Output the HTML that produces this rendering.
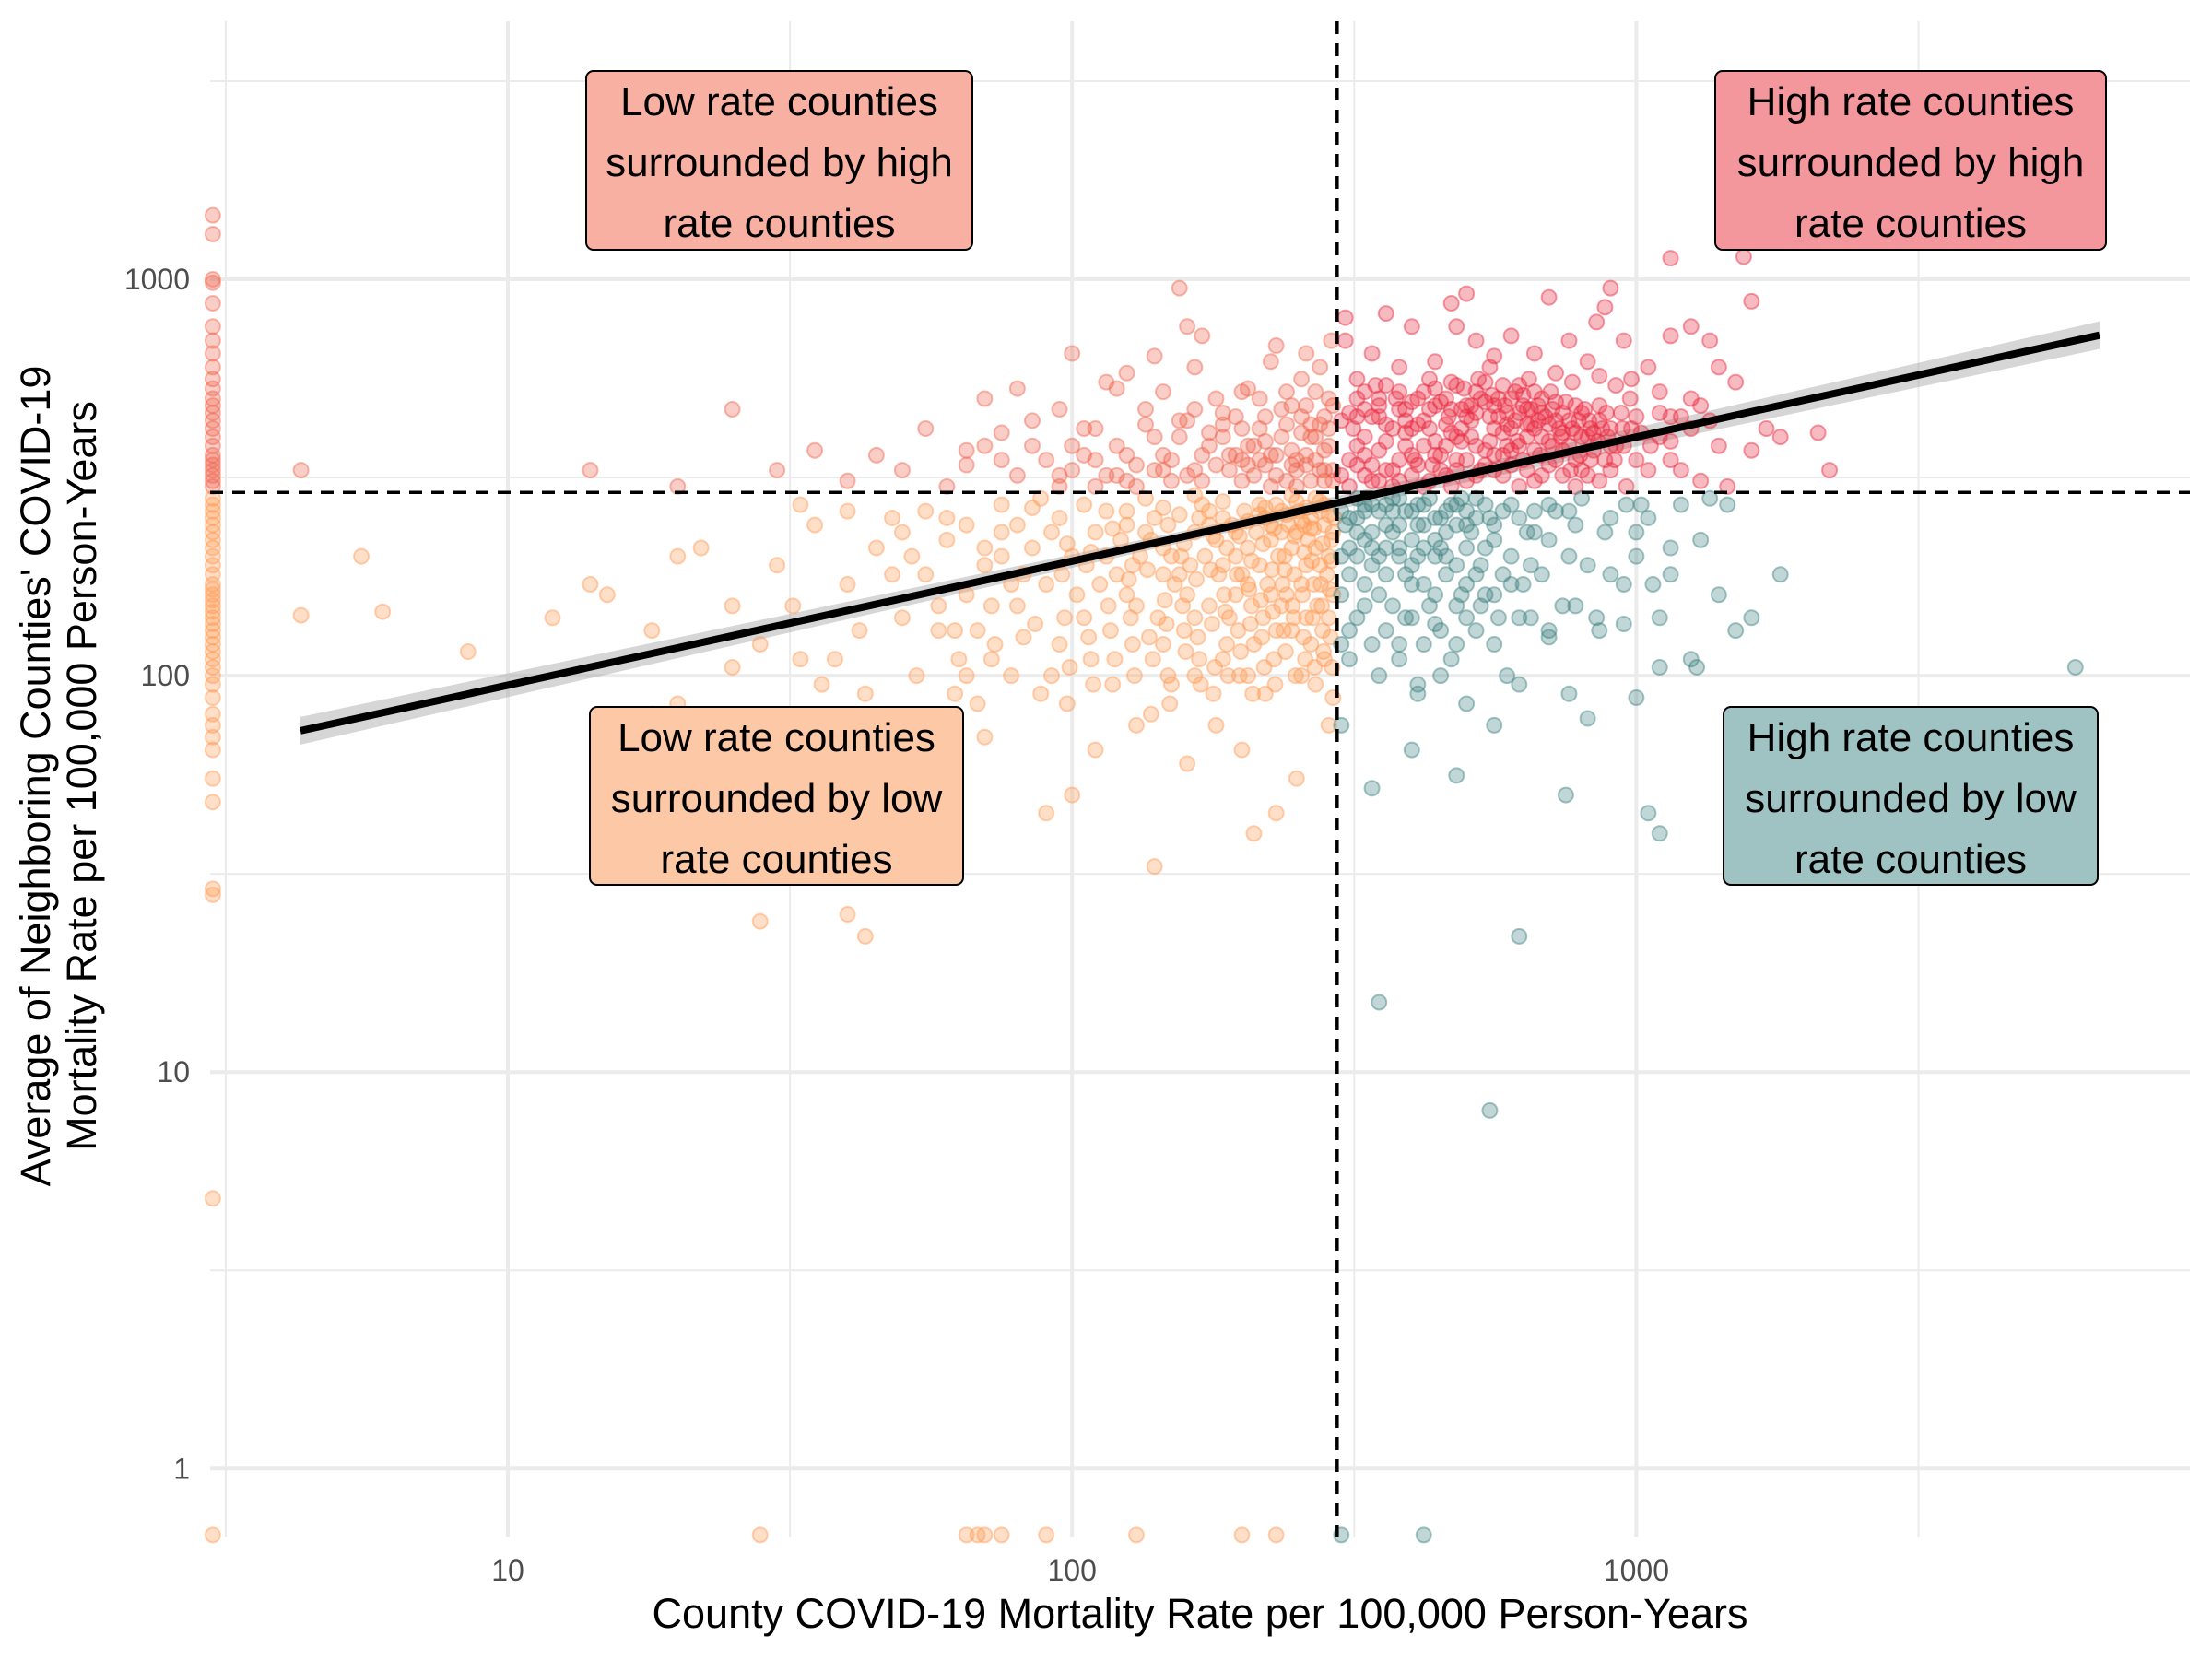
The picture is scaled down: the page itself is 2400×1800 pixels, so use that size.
<!DOCTYPE html>
<html><head><meta charset="utf-8"><style>
html,body{margin:0;padding:0;background:#fff;}
svg{display:block;font-family:"Liberation Sans",sans-serif;}
</style></head><body>
<svg id="chart" width="2400" height="1800" viewBox="0 0 2400 1800" xmlns="http://www.w3.org/2000/svg">
<g id="grid"></g>
<g id="band"></g>
<g id="pts"></g>
<g id="ref"></g>
<g id="axes"></g>
<g id="labels"></g>
</svg>
<script>
const xTicks=[10,100,1000];
const yTicks=[1,10,100,1000];
const xThreshold=295;
const yThreshold=290;
const regIntercept=1.663;
const regSlope=0.313;
const regXRange=[4.29,6620];
const llPts="150:200,180:220,200:180,220:250,250:230,270:210,120:180,130:150,160:160,190:140,210:120,240:160,260:190,280:240,100:200,110:230,90:170,80:150,70:190,60:220,140:250,170:270,230:270,260:140,280:110,290:160,285:200,275:260,255:100,230:130,205:210,185:190,165:230,145:210,125:260,105:140,95:120,85:210,75:230,65:160,55:180,50:140,45:210,40:170,35:240,30:190,25:150,20:200,15:160,12:140,8.5:115,6:145,4.3:142,5.5:200,14:170,18:130,22:210,28:120,33:270,38:110,43:90,48:250,53:100,58:130,63:110,68:85,73:120,78:100,88:90,98:85,108:110,118:95,128:120,138:80,148:100,158:130,168:110,178:90,188:120,198:100,208:150,218:140,228:110,238:200,248:180,258:240,268:170,278:130,288:220,292:250,283:180,272:150,262:220,252:260,242:240,232:200,222:170,212:230,202:260,192:240,182:180,172:200,162:190,152:170,142:140,132:200,122:220,112:170,102:160,92:230,82:180,72:150,62:130,52:200,42:130,32:150,45:40,43:22,40:25,28:24,24:50,20:85,90:45,100:50,140:33,130:75,160:60,180:75,210:40,200:65,220:90,250:55,230:45,60:60,70:70,110:65,150:95,270:95,285:75,290:88,33:110,36:95,25:105,18:80,65:100,155:180,175:150,195:200,215:190,235:230,265:250,245:210,225:220,205:170,185:250,165:140,145:180,135:230,115:200,125:160,175:240,195:160,215:270,235:150,255:170,275:190,285:140,265:120,245:130,225:160,205:100,185:110,165:100,145:120,280:270,270:280,250:275,260:265,290:230,240:255,220:265";
const llCore="95:250,105:270,115:260,125:240,135:280,145:265,155:255,165:285,175:260,185:275,195:230,205:245,215:255,225:240,235:260,245:285,255:245,265:235,275:275,285:255,98:215,108:205,118:235,128:190,138:220,148:240,158:215,168:250,178:225,188:210,198:225,208:195,218:215,228:235,238:185,248:225,258:205,268:235,278:215,288:195,96:180,106:190,116:150,126:175,136:185,146:155,156:200,166:175,176:185,186:160,196:180,206:165,216:155,226:185,236:170,246:150,256:160,266:195,276:170,286:165,97:140,107:125,117:130,127:140,137:125,147:135,157:150,167:125,177:135,187:145,197:130,207:135,217:125,227:145,237:130,247:140,257:125,267:140,277:150,287:125,99:105,109:95,119:110,129:100,139:110,149:85,159:115,169:95,179:105,189:100,199:115,209:90,219:105,229:95,239:115,249:100,259:110,269:105,279:115,289:105,75:200,65:240,55:260,85:265,75:270,60:250,50:230,40:260,70:210,80:240,88:280,78:170,68:130,58:150,48:180,82:125,72:110,62:90,92:100,86:135";
const ulPts="250:350,270:400,280:450,230:320,210:380,190:330,170:360,150:310,130:340,110:300,100:330,260:480,240:520,220:450,200:420,180:500,160:440,140:400,120:380,90:350,80:320,70:380,60:300,50:330,40:310,30:330,20:300,14:330,4.3:330,25:470,35:370,45:360,55:420,65:340,75:410,85:440,95:470,105:420,115:550,125:580,135:470,145:520,155:440,165:600,175:410,185:460,195:360,205:530,215:500,225:620,235:400,245:370,255:560,265:430,275:600,285:380,290:330,288:700,260:650,230:680,200:520,170:720,160:760,155:950,140:640,120:530,100:650,80:530,70:500,110:420,200:310,250:300,280:310,270:520,240:430,215:350,185:400,165:330,145:360,125:310,95:300,260:360,220:390,275:330,285:420,265:310,245:340,225:300,205:340,290:480,280:370,255:410";
const ulCore="100:380,110:350,120:320,130:300,140:330,150:350,160:320,170:310,180:340,190:360,200:350,210:320,220:340,230:360,240:310,250:330,260:340,270:350,280:330,290:310,135:430,155:400,175:380,195:450,215:420,235:470,255:450,275:430,285:500,265:400,245:480,225:360,205:380,185:430,165:470,145:330,125:360,105:360,115:320,95:320,85:380,75:350,65:370";
const urPts="310:350,330:400,350:450,370:330,390:380,410:500,430:420,450:360,470:550,490:470,510:400,530:330,550:600,570:450,590:380,610:520,630:350,650:430,680:500,710:380,740:460,770:550,800:400,830:350,860:480,900:420,950:380,1000:450,1100:400,1200:330,1300:480,1400:380,1600:370,1800:400,2100:410,2200:330,1700:420,1500:550,1350:700,1250:760,1150:720,1050:600,950:700,880:850,820:620,760:700,720:580,660:650,600:720,560:640,520:700,480:760,440:620,400:760,380:600,360:820,340:650,320:560,305:700,305:800,330:320,350:310,380:310,420:300,460:320,500:310,540:340,580:320,620:300,660:310,700:340,740:320,780:300,820:320,860:310,900:330,960:300,1050:330,1150:350,1300:310,1450:300,1150:1130,1550:1140,1600:880,1400:600,1250:500,1150:450,1100:520,980:560,920:540,860:570,780:480,720:440,680:400,640:470,600:420,560:360,520:460,480:400,440:480,400:420,360:390,330:470,315:420,345:540,375:500,405:350,435:340,465:450,495:530,525:560,555:510,585:480,615:390,645:560,675:360,705:520,735:400,765:330,795:360,825:440,855:390,885:460,915:350,945:420,975:500,1000:350,1200:450,900:950,850:780,700:900,500:920,470:870,320:380,340:340,360:430,380:470,400:360,420:520,440:390,460:430,480:350,500:450,520:380,540:490,560:420,580:540,600:370,620:460,640:400,660:520,320:450,350:500,390:440,430:560,470:410,510:480,550:390,590:430,630:510,670:440";
const urCore="300:320,310:300,320:340,330:360,340:310,350:370,360:330,370:300,380:350,390:410,400:320,410:340,420:380,430:310,440:360,450:330,460:380,470:300,480:330,490:390,500:350,520:320,540:370,560:330,580:360,600:340,620:380,640:330,660:370,680:320,700:390,720:350,740:370,760:380,780:350,800:330,840:370,880:350,920:380,310:460,330:520,350:480,370:420,390:470,410:430,430:470,450:490,470:470,490:420,510:440,530:500,550:450,570:500,590:460,610:440,630:480,650:470,670:480,690:450,710:470,730:420,750:490,770:420,790:440,810:470,830:420,860:440,890:400,300:440,320:500,340:450,360:540,380:520,400:490,420:440,440:530,460:500,480:540,500:480,520:520,540:550,560:480,580:410,600:500,620:540,640:430,660:420,680:460,700:430,720:490,740:410,760:440,780:410,800:460,820:400,840:410,870:420,900:380,940:460,980:420,1020:410,1060:380,1100:460,1150:390,1250:420,1350:440";
const lrPts="310:250,330:220,350:200,370:260,390:180,410:240,430:150,450:210,470:270,490:160,510:230,530:190,550:250,570:140,600:200,630:170,660:260,700:220,740:150,780:240,820:190,860:130,900:250,950:170,1000:230,1050:250,1100:140,1150:180,1200:270,1250:110,1300:220,1400:160,1500:130,1800:180,1100:105,1280:105,950:135,850:140,760:90,820:78,700:125,650:140,620:95,590:100,560:120,530:150,500:170,470:110,440:135,410:90,380:120,350:100,330:150,310:130,300:200,320:280,340:270,360:240,380:280,400:260,420:210,440:250,460:230,480:190,500:260,520:280,540:210,560:240,580:180,600:270,640:230,680:180,720:260,760:200,800:280,880:230,960:270,1020:270,1070:170,1150:210,1350:280,1450:270,1600:140,6000:105,5000:40,1000:88,1050:45,1100:40,750:50,620:22,550:8,350:15,340:52,400:65,480:56,410:95,500:85,560:75,300:75,450:100,700:130,780:150,900:180,1000:200,320:230,340:190,360:270,380:210,400:170,420:270,440:200,460:180,480:240,500:210,330:260,370:230,410:200,450:250,490:280";
const lrCore="300:260,305:240,310:210,320:250,330:270,340:230,350:260,360:210,370:280,380:240,390:260,400:220,410:270,420:240,430:280,440:220,460:260,480:270,500:240,520:250,540:270,560:220,580:260,620:250,660:230,700:270,760:260,300:160,310:180,320:200,330:170,340:210,350:160,360:180,370:150,380:200,390:140,400:190,420:170,440:160,460:200,480:150,500:140,520:180,540:160,600:170,650:190,300:120,310:110,320:140,340:120,360:130,380:110,400:140,420:120,450:130,480:120,520:130,560:160,620:140";
const zeroXPtsY=[48,55,65,70,75,80,88,95,100,105,110,115,120,125,130,135,140,145,150,155,160,165,170,180,190,200,210,220,230,240,250,260,270,280,300,310,320,330,340,350,360,380,400,420,440,460,480,500,530,560,600,650,700,760,870,980,1000,1300,1450,29,28,4.8];
const zeroYPtsX=[3,28,65,68,70,75,90,130,200,230,420,300];

const L=228,R=2376,T=23,B=1668;
const zeroX=3.0, zeroY=0.68;
function xs(v){return 551+(Math.log10(v)-1)*612.2;}
function ys(v){return 303+(3-Math.log10(v))*430.1;}
const NS="http://www.w3.org/2000/svg";
function mk(tag,attrs,parent){const e=document.createElementNS(NS,tag);for(const k in attrs)e.setAttribute(k,attrs[k]);parent.appendChild(e);return e;}
const grid=document.getElementById('grid');
[0.5,1.5,2.5,3.5].forEach(l=>{const x=xs(Math.pow(10,l));const e=mk('line',{x1:x,x2:x,y1:T,y2:B,stroke:'#ebebeb','stroke-width':2},grid);

});
[-0.5,0.5,1.5,2.5,3.5].forEach(l=>{const y=ys(Math.pow(10,l));if(y<T||y>B)return;const e=mk('line',{x1:L,x2:R,y1:y,y2:y,stroke:'#ebebeb','stroke-width':2},grid);

});
const axes=document.getElementById('axes');
xTicks.forEach(v=>{const x=xs(v);const e=mk('line',{x1:x,x2:x,y1:T,y2:B,stroke:'#ebebeb','stroke-width':4},grid);


const t=mk('text',{x:x,y:1715,'text-anchor':'middle','font-size':32,fill:'#4d4d4d'},axes);t.textContent=v;

});
yTicks.forEach(v=>{const y=ys(v);const e=mk('line',{x1:L,x2:R,y1:y,y2:y,stroke:'#ebebeb','stroke-width':4},grid);


const t=mk('text',{x:206,y:y+11,'text-anchor':'end','font-size':32,fill:'#4d4d4d'},axes);t.textContent=v;

});
const xt=mk('text',{x:1302,y:1766,'text-anchor':'middle','font-size':45,fill:'#000'},axes);xt.textContent='County COVID-19 Mortality Rate per 100,000 Person-Years';


const yt=mk('text',{transform:'translate(0,842) rotate(-90)','text-anchor':'middle','font-size':45,fill:'#000'},axes);


const t1=mk('tspan',{x:0,y:54},yt);t1.textContent="Average of Neighboring Counties' COVID-19";
const t2=mk('tspan',{x:0,y:104},yt);t2.textContent="Mortality Rate per 100,000 Person-Years";
const pts=document.getElementById('pts');
function colorFor(x,y){if(x<xThreshold){return y<yThreshold?'#FF9A55':'#F0654F';}return y<yThreshold?'#3D8080':'#E8293F';}
function drawPt(x,y,px,py){const c=colorFor(x,y);const e=mk('circle',{cx:px,cy:py,r:8,fill:c,'fill-opacity':0.32,stroke:c,'stroke-opacity':0.45,'stroke-width':2},pts);

}
[llPts,llCore,ulPts,ulCore,urPts,urCore,lrPts,lrCore].forEach(s=>s.split(',').forEach(p=>{const [a,b]=p.split(':').map(Number);drawPt(a,b,xs(a),ys(b));}));
zeroXPtsY.forEach(v=>drawPt(0,v,xs(zeroX),ys(v)));
zeroYPtsX.forEach(v=>drawPt(v,0,xs(v),ys(zeroY)));
const band=document.getElementById('band');
const lx0=Math.log10(regXRange[0]),lx1=Math.log10(regXRange[1]);
const x0=xs(regXRange[0]),x1=xs(regXRange[1]);
const y0=ys(Math.pow(10,regIntercept+regSlope*lx0)),y1=ys(Math.pow(10,regIntercept+regSlope*lx1));
const bp=mk('polygon',{points:`${x0},${y0-15} ${(x0+x1)/2},${(y0+y1)/2-6} ${x1},${y1-15} ${x1},${y1+15} ${(x0+x1)/2},${(y0+y1)/2+6} ${x0},${y0+15}`,fill:'#999','fill-opacity':0.4},band);


const ref=document.getElementById('ref');
const vx=xs(xThreshold),hy=ys(yThreshold);
const vl=mk('line',{x1:vx,x2:vx,y1:T,y2:B,stroke:'#000','stroke-width':3.5,'stroke-dasharray':'14 10'},ref);


const hl=mk('line',{x1:L,x2:R,y1:hy,y2:hy,stroke:'#000','stroke-width':3.5,'stroke-dasharray':'14 10'},ref);


const rl=mk('line',{x1:x0,y1:y0,x2:x1,y2:y1,stroke:'#000','stroke-width':8},ref);


const labels=document.getElementById('labels');
const boxes=[
 {x:636,y:77,w:419,h:194,fill:'#F8B0A2',lines:['Low rate counties','surrounded by high','rate counties'],name:'label-low-high'},
 {x:1861,y:77,w:424,h:194,fill:'#F4979D',lines:['High rate counties','surrounded by high','rate counties'],name:'label-high-high'},
 {x:640,y:767,w:405,h:193,fill:'#FDC8A6',lines:['Low rate counties','surrounded by low','rate counties'],name:'label-low-low'},
 {x:1870,y:767,w:406,h:193,fill:'#9EC3C2',lines:['High rate counties','surrounded by low','rate counties'],name:'label-high-low'}];
boxes.forEach(b=>{const g=mk('g',{},labels);


mk('rect',{x:b.x,y:b.y,width:b.w,height:b.h,rx:8,fill:b.fill,stroke:'#000','stroke-width':2},g);
b.lines.forEach((s,i)=>{const t=mk('text',{x:b.x+b.w/2,y:b.y+48+i*66,'text-anchor':'middle','font-size':44,fill:'#000'},g);t.textContent=s;});});
</script>
</body></html>
